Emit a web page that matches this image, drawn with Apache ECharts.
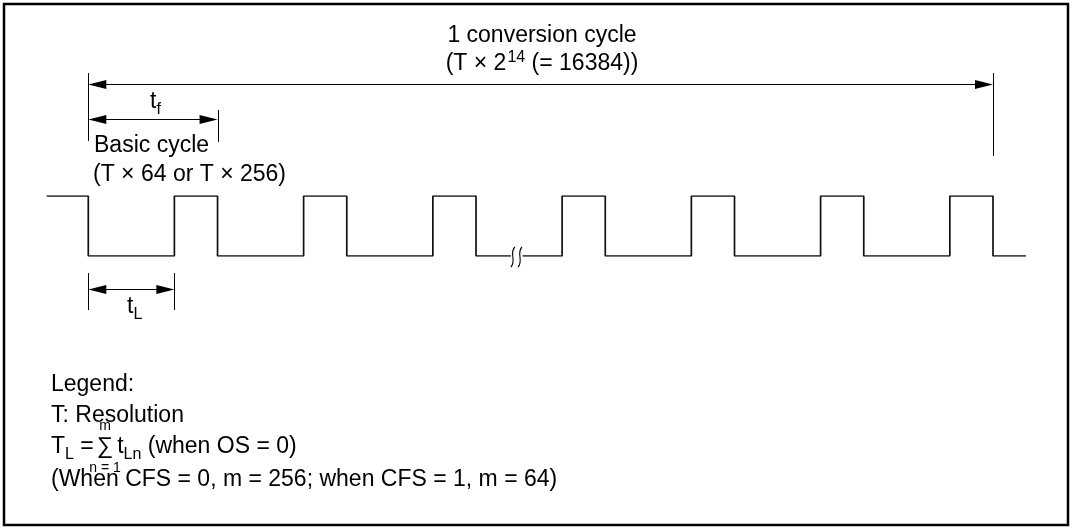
<!DOCTYPE html>
<html>
<head>
<meta charset="utf-8">
<script src="https://cdn.jsdelivr.net/npm/echarts@6/dist/echarts.min.js"></script>
<style>
  html, body { margin: 0; padding: 0; background: #fff; }
  #chart { width: 1073px; height: 530px; }
</style>
</head>
<body>
<div id="chart"></div>
<script>
// time is counted in basic cycles (1 basic cycle = T x 64 or T x 256)
const fallEdges = [0, 1, 2, 3, 4, 5, 6, 7];
const riseEdges = [0.666, 1.666, 2.666, 3.666, 4.666, 5.666, 6.666];
const leadIn = -0.322;
const tailOut = 7.255;
const levels = [0, 1];            // low, high
const breakGap = [3.27, 3.36];    // where the low line is cut
const breakMarks = [3.285, 3.34]; // the two wavy break marks

// dimension arrows
const conversionSpan = [0, 7];
const basicSpan = [0, 1];
const lowSpan = [0, 0.666];

const FONT = '"Liberation Sans", Arial, Helvetica, sans-serif';
const INK = '#000';

// build the waveform, split where the break is
let wave = [[leadIn, levels[1]]];
fallEdges.forEach((f, i) => {
  wave.push([f, levels[1]], [f, levels[0]]);
  const r = riseEdges[i];
  if (r !== undefined) {
    if (breakGap[0] > f && breakGap[1] < r) {
      wave.push([breakGap[0], levels[0]], null, [breakGap[1], levels[0]]);
    }
    wave.push([r, levels[0]], [r, levels[1]]);
  }
});
wave.push([tailOut, levels[0]]);

let segments = [[]];
wave.forEach(p => {
  if (p === null) segments.push([]);
  else segments[segments.length - 1].push(p);
});

let chart = echarts.init(document.getElementById('chart'), null, { renderer: 'canvas' });

// x: 0 -> 88.3px, 7 -> 993px
chart.setOption({
  animation: false,
  backgroundColor: '#fff',
  grid: { left: 36.6, right: 28.3, top: 196, bottom: 274 },
  xAxis: { type: 'value', min: -0.4, max: 7.4, show: false },
  yAxis: { type: 'value', min: 0, max: 1, show: false },
  series: segments.map(seg => ({
    type: 'line',
    data: seg,
    showSymbol: false,
    silent: true,
    lineStyle: { color: '#111', width: 1.7 }
  }))
});

// ---- annotations ----
let ctx = document.createElement('canvas').getContext('2d');
function textWidth(s, size) {
  ctx.font = size + 'px ' + FONT;
  return ctx.measureText(s).width;
}
// parts: [text, fontSize, dy, dx]
function textRun(x, baseline, parts, align) {
  const total = parts.reduce((w, p) => w + textWidth(p[0], p[1]) + (p[3] || 0), 0);
  let cx = align === 'center' ? x - total / 2 : x;
  let els = [], pos = [];
  parts.forEach(p => {
    cx += p[3] || 0;
    const w = textWidth(p[0], p[1]);
    els.push({
      type: 'text',
      x: cx,
      y: baseline + (p[2] || 0) - 0.3465 * p[1],
      silent: true,
      style: {
        text: p[0], fontSize: p[1], fontFamily: FONT, fill: INK,
        align: 'left', verticalAlign: 'middle'
      }
    });
    pos.push([cx, w]);
    cx += w;
  });
  return { els, pos };
}

function px(t) {
  return chart.convertToPixel({ xAxisIndex: 0 }, t);
}

function vline(x, y0, y1) {
  x = Math.round(x) + 0.5;
  return { type: 'line', silent: true, shape: { x1: x, y1: y0, x2: x, y2: y1 },
    style: { stroke: INK, lineWidth: 1 } };
}

function dimension(span, y) {
  const a = px(span[0]), b = px(span[1]);
  return [
    { type: 'line', silent: true, shape: { x1: a + 10, y1: y, x2: b - 10, y2: y },
      style: { stroke: INK, lineWidth: 1 } },
    { type: 'polygon', silent: true, shape: { points: [[a, y], [a + 18, y - 4.5], [a + 18, y + 4.5]] },
      style: { fill: INK } },
    { type: 'polygon', silent: true, shape: { points: [[b, y], [b - 18, y - 4.5], [b - 18, y + 4.5]] },
      style: { fill: INK } }
  ];
}

let g = [];

// frame
g.push({ type: 'rect', silent: true, shape: { x: 4, y: 4, width: 1064, height: 521 },
  style: { fill: null, stroke: INK, lineWidth: 2.5 } });

// conversion cycle
g.push(vline(px(conversionSpan[0]), 73, 141));
g.push(vline(px(conversionSpan[1]), 73, 156));
g = g.concat(dimension(conversionSpan, 84.5));

// basic cycle t_f
g.push(vline(px(basicSpan[1]), 110, 142));
g = g.concat(dimension(basicSpan, 119.5));

// low time t_L
g.push(vline(px(lowSpan[0]), 273, 310));
g.push(vline(px(lowSpan[1]), 273, 310));
g = g.concat(dimension(lowSpan, 289.5));

// break in the low line
const lowY = chart.convertToPixel({ yAxisIndex: 0 }, levels[0]);
breakMarks.forEach(t => {
  const x = px(t);
  g.push({ type: 'bezierCurve', silent: true,
    shape: { x1: x + 2, y1: lowY - 9, cpx1: x - 4, cpy1: lowY - 3, cpx2: x + 4, cpy2: lowY + 5, x2: x - 2, y2: lowY + 11 },
    style: { stroke: INK, lineWidth: 1.1, fill: null } });
});

// texts
g = g.concat(textRun(542, 44, [['1 conversion cycle', 23]], 'center').els);
g = g.concat(textRun(542, 72, [['(T \u00d7 2', 23], ['14', 16, -9, 1], [' (= 16384))', 23]], 'center').els);
g = g.concat(textRun(150, 110, [['t', 23], ['f', 16, 5]]).els);
g = g.concat(textRun(94, 154, [['Basic cycle', 23]]).els);
g = g.concat(textRun(93, 183, [['(T \u00d7 64 or T \u00d7 256)', 23]]).els);
g = g.concat(textRun(127, 315, [['t', 23], ['L', 16, 5]]).els);

g = g.concat(textRun(51, 393, [['Legend:', 23]]).els);
g = g.concat(textRun(51, 424, [['T: Resolution', 23]]).els);
let sumLine = textRun(51, 455, [
  ['T', 23], ['L', 16, 5], [' =', 23], ['\u2211', 23, 0, 3], ['t', 23, 0, 4], ['Ln', 16, 5], [' (when OS = 0)', 23]
]);
g = g.concat(sumLine.els);
const sig = sumLine.pos[3];
g = g.concat(textRun(sig[0] + sig[1] / 2, 431, [['m', 14]], 'center').els);
g = g.concat(textRun(sig[0] + sig[1] / 2, 473, [['n = 1', 14]], 'center').els);
g = g.concat(textRun(51, 488, [['(When CFS = 0, m = 256; when CFS = 1, m = 64)', 23]]).els);

chart.setOption({ graphic: g });
</script>
</body>
</html>
